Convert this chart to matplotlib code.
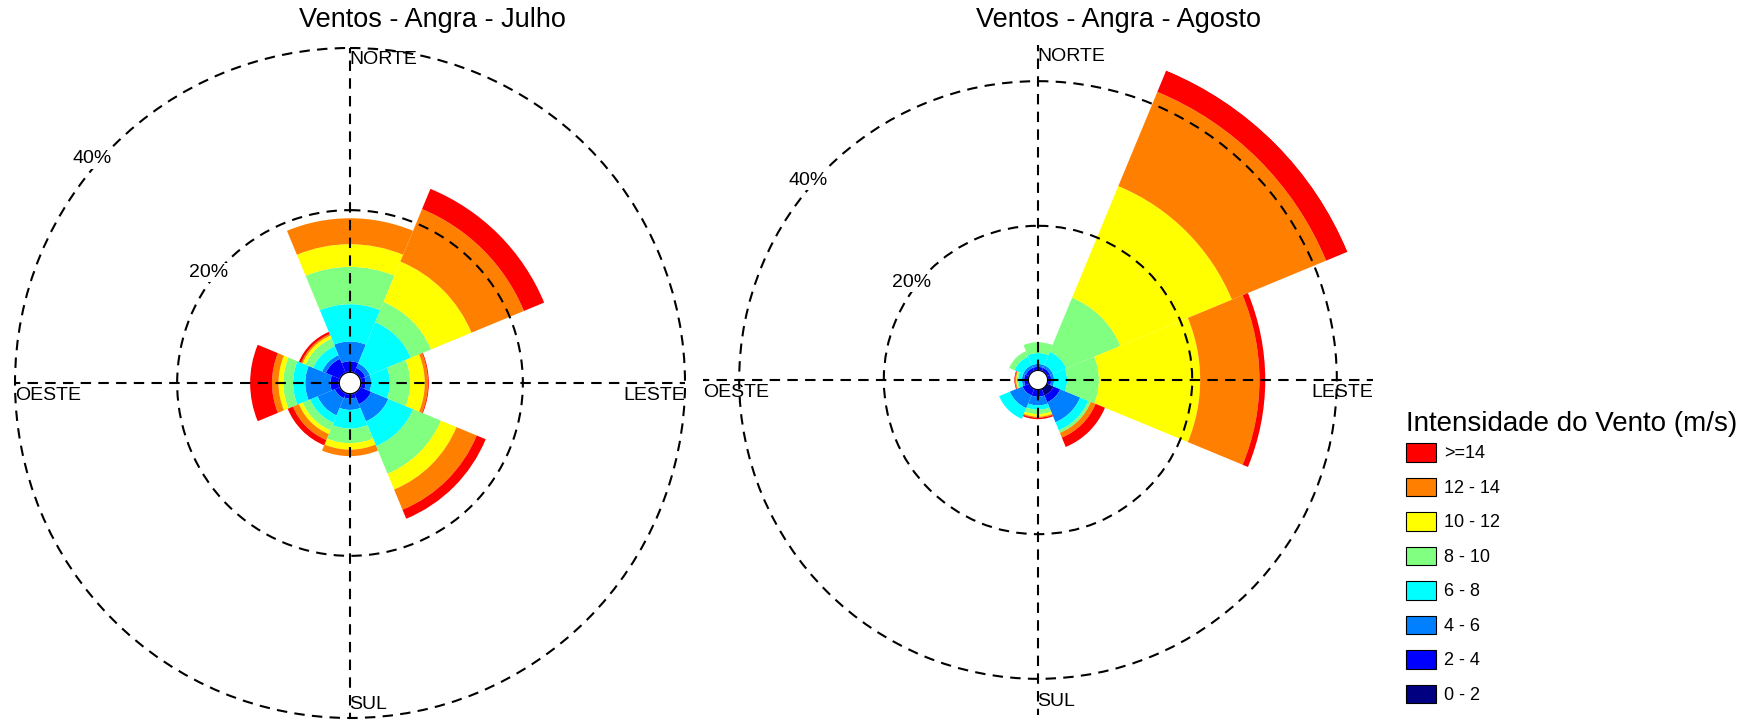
import numpy as np
import matplotlib.pyplot as plt
from matplotlib.patches import Patch

plt.rcParams['font.family'] = ['Liberation Sans', 'DejaVu Sans']

# Direções (8 setores de 45 graus)
direcoes = ['N', 'NE', 'E', 'SE', 'S', 'SW', 'W', 'NW']
angulos = [0, 45, 90, 135, 180, 225, 270, 315]

# Classes de intensidade do vento (m/s) e cores
classes = ['0 - 2', '2 - 4', '4 - 6', '6 - 8', '8 - 10', '10 - 12', '12 - 14', '>=14']
cores = ['#000080', '#0000FF', '#0080FF', '#00FFFF', '#80FF80', '#FFFF00', '#FF8000', '#FF0000']

# Frequência (%) por classe (linhas) e direção (colunas: N, NE, E, SE, S, SW, W, NW)
freq_julho = [
    [0.1, 0.1, 0.1, 0.1, 0.1, 0.1, 0.1, 0.1],   # 0 - 2
    [1.25, 0.6, 0.5, 1.4, 0.5, 0.6, 1.0, 1.8],  # 2 - 4
    [2.45, 0.6, 0.7, 2.3, 1.4, 2.3, 3.1, 0.5],  # 4 - 6
    [4.6, 5.5, 2.3, 3.3, 2.3, 1.0, 1.5, 1.2],   # 6 - 8
    [4.6, 2.7, 2.5, 3.7, 1.8, 1.0, 1.2, 1.0],   # 8 - 10
    [2.8, 5.4, 1.8, 2.1, 0.8, 0.5, 0.6, 0.4],   # 10 - 12
    [3.2, 7.0, 0.4, 2.7, 0.8, 0.8, 0.8, 0.2],   # 12 - 14
    [0.0, 2.7, 0.1, 1.2, 0.0, 0.7, 2.7, 0.3],   # >=14
]

freq_agosto = [
    [0.1, 0.1, 0.1, 1.0, 0.1, 0.1, 0.1, 0.1],    # 0 - 2
    [0.4, 0.4, 0.4, 1.0, 0.9, 0.9, 0.5, 0.4],    # 2 - 4
    [0.4, 0.4, 0.4, 3.0, 1.2, 1.9, 0.3, 0.4],    # 4 - 6
    [1.5, 2.0, 1.8, 1.2, 0.6, 1.6, 0.5, 1.3],    # 6 - 8
    [1.5, 8.1, 4.4, 0.4, 0.6, 0.0, 0.2, 0.8],    # 8 - 10
    [0.0, 16.7, 14.0, 0.0, 0.35, 0.0, 0.1, 0.0], # 10 - 12
    [0.0, 14.1, 8.2, 0.7, 0.15, 0.0, 0.15, 0.0], # 12 - 14
    [0.0, 3.2, 0.8, 1.4, 0.2, 0.0, 0.1, 0.0],    # >=14
]

W, H = 1738, 721
fig = plt.figure(figsize=(W / 100, H / 100), dpi=100)

R = 335  # raio do eixo em pixels


def rosa(cx, cy, freq, rmax, titulo, tx, pos_rotulos):
    ax = fig.add_axes([(cx - R) / W, (H - cy - R) / H, 2 * R / W, 2 * R / H], projection='polar')
    theta = np.deg2rad(angulos)
    base = np.zeros(len(angulos))
    for k in range(len(classes)):
        ax.bar(theta, freq[k], width=np.deg2rad(45), bottom=base,
               color=cores[k], edgecolor='none', linewidth=0, align='center')
        base = base + np.array(freq[k])

    ax.set_theta_zero_location('N')
    ax.set_theta_direction(-1)
    ax.set_rlim(0, rmax)
    ax.set_rorigin(-1.32)
    ax.set_rgrids([20, 40], labels=['', ''])
    ax.set_thetagrids([0, 90, 180, 270], labels=[''] * 4)
    ax.grid(True, color='black', linestyle=(0, (5, 3.5)), linewidth=1.5)
    for gl in ax.xaxis.get_gridlines() + ax.yaxis.get_gridlines():
        gl.set_clip_on(False)
    ax.set_axisbelow(False)
    ax.spines['polar'].set_visible(False)
    ax.spines['inner'].set_visible(False)
    ax.tick_params(length=0)

    for v, ang in zip([20, 40], pos_rotulos):
        ax.text(np.deg2rad(ang), v + 0.8, f'{v}%', ha='center', va='center', fontsize=14,
                bbox=dict(facecolor='white', edgecolor='none', pad=1), zorder=5)

    d = 1 / (2 * R)
    ax.text(0.5 - 1 * d, 1 - 3 * d, 'NORTE', transform=ax.transAxes, ha='left', va='top', fontsize=14)
    ax.text(0.5 - 1 * d, 5 * d, 'SUL', transform=ax.transAxes, ha='left', va='bottom', fontsize=14)
    ax.text(0, 0.5 - 4 * d, 'OESTE', transform=ax.transAxes, ha='left', va='top', fontsize=14)
    ax.text(1, 0.5 - 4 * d, 'LESTE', transform=ax.transAxes, ha='right', va='top', fontsize=14)

    fig.text(tx / W, 1 - 20 / H, titulo, ha='center', va='center', fontsize=19.5)
    return ax


rosa(350, 383, freq_julho, 40, 'Ventos - Angra - Julho', 432, [308, 311])
rosa(1038, 380, freq_agosto, 45, 'Ventos - Angra - Agosto', 1118, [307.5, 311])

# Legenda
fig.text(1406 / W, 1 - 424 / H, 'Intensidade do Vento (m/s)', ha='left', va='center', fontsize=20)
handles = [Patch(facecolor=c, edgecolor='black', linewidth=0.8) for c in cores[::-1]]
fig.legend(handles, classes[::-1],
           loc='upper left', bbox_to_anchor=(1406 / W, 1 - 443 / H),
           frameon=False, fontsize=13,
           handlelength=1.67, handleheight=1.2, labelspacing=0.84,
           handletextpad=0.46, borderaxespad=0, borderpad=0)

plt.savefig('out.png', dpi=100)
